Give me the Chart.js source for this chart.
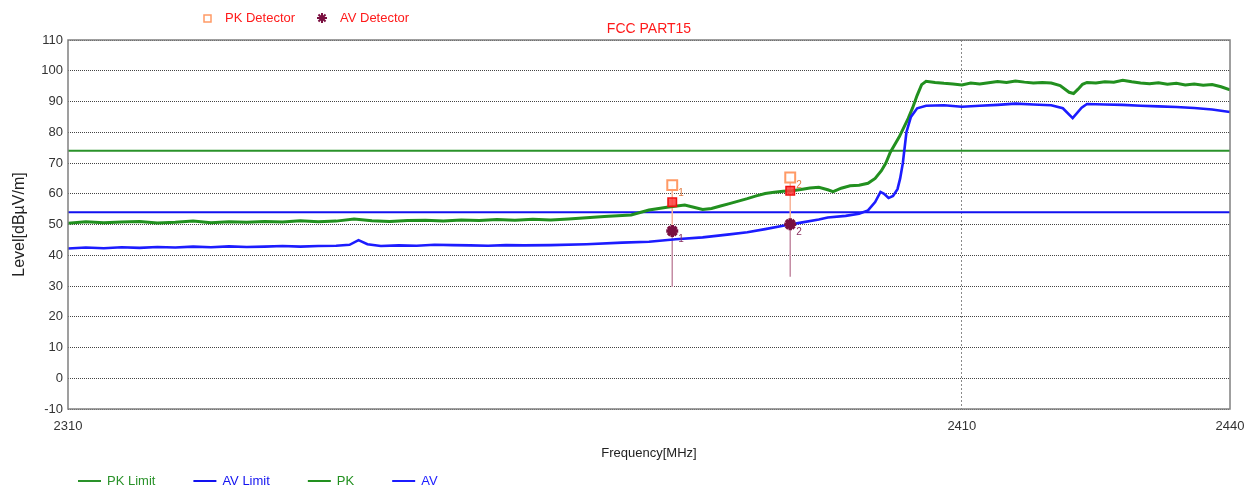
<!DOCTYPE html>
<html>
<head>
<meta charset="utf-8">
<script src="https://cdn.jsdelivr.net/npm/chart.js@4.4.0/dist/chart.umd.min.js"></script>
<style>
  html, body { margin: 0; background: #fff; }
  #wrap { width: 1255px; height: 491px; }
</style>
</head>
<body>
<div id="wrap"><canvas id="grafico" width="1255" height="491"></canvas></div>
<script>
// tracce (MHz, dBµV/m)
const pkFreq = [2310,2312,2314,2316,2318,2320,2322,2324,2326,2328,2330,2332,2334,2336,2338,2340,2342,2344,2346,2348,
  2350,2352,2354,2356,2358,2360,2362,2364,2366,2368,2370,2372,2373,2375,2377,2379,2380,2381,2382,2383,2384,2385,2386,
  2387,2388,2389,2390,2391,2392,2393,2394,2395,2395.6,2396.5,2397.5,2398.5,2399.5,2400.3,2401,2401.5,2402,2402.5,2403,
  2403.5,2404,2404.5,2405,2405.5,2406,2407,2408,2409,2410,2411,2412,2413,2414,2415,2416,2417,2418,2419,2420,2421,2422,
  2422.5,2423,2423.5,2424,2425,2426,2427,2428,2429,2430,2431,2432,2433,2434,2435,2436,2437,2438,2439,2440];
const pkLevel = [50.4,50.9,50.6,50.8,51.0,50.5,50.7,51.1,50.6,50.9,50.7,51.0,50.8,51.2,50.9,51.1,51.8,51.2,51.0,51.3,
  51.4,51.1,51.5,51.3,51.6,51.4,51.7,51.5,51.8,52.2,52.6,52.9,53.1,54.7,55.6,56.3,55.6,54.9,55.2,56.0,56.8,57.6,58.4,
  59.3,60.1,60.5,60.8,61.0,61.4,61.9,62.1,61.3,60.7,61.8,62.6,62.8,63.4,65.0,67.5,70.0,73.5,76.0,78.5,
  81.5,84.5,88.0,92.0,95.5,96.6,96.2,95.9,95.7,95.4,96.0,95.7,96.1,96.5,96.2,96.7,96.3,96.0,96.2,96.0,95.2,93.0,
  92.6,94.0,95.6,96.2,96.0,96.4,96.3,96.9,96.4,96.0,95.8,96.1,95.6,95.9,95.4,95.7,95.3,95.5,94.8,93.8];

const avFreq = [2310,2312,2314,2316,2318,2320,2322,2324,2326,2328,2330,2332,2334,2336,2338,2340,2341.5,2342.5,2343.5,
  2345,2347,2349,2351,2353,2355,2357,2359,2361,2364,2368,2372,2375,2378,2381,2384,2386,2388,2390,2392,2394,2395,2397,
  2398.5,2399.5,2400.3,2400.9,2401.3,2401.8,2402.3,2402.8,2403.1,2403.4,2403.8,2404.3,2405,2406,2408,2410,2412,2414,
  2416,2418,2420,2421.3,2422.4,2423.4,2424,2426,2428,2430,2432,2434,2436,2438,2440];
const avLevel = [42.2,42.5,42.3,42.6,42.4,42.7,42.5,42.8,42.6,42.9,42.7,42.8,43.0,42.8,43.0,43.1,43.4,44.9,43.6,
  43.0,43.2,43.1,43.4,43.3,43.2,43.1,43.3,43.2,43.3,43.6,44.1,44.4,45.2,45.8,46.8,47.5,48.5,49.6,50.6,51.6,52.3,52.8,
  53.5,54.6,57.3,60.6,60.0,58.6,59.3,61.5,65.0,70.0,80.0,85.0,87.8,88.6,88.8,88.3,88.6,88.9,
  89.3,89.0,88.8,87.8,84.6,88.0,89.2,89.0,88.9,88.6,88.4,88.2,87.9,87.4,86.6];

// limiti
const limitFreq = [2310, 2440];
const pkLimit = 74;
const avLimit = 54;

// marker 1 e 2
const markerFreq = [2377.6, 2390.8];
const pkDetector = [62.8, 65.3];
const pkOnTrace = [57.2, 61.0];
const avDetector = [47.9, 50.1];
const markerFloor = [29.7, 33.0];

const xTicks = [2310, 2410, 2440];
const yMin = -10, yMax = 110, yStep = 10;

const FONT = "'Liberation Sans', Arial, sans-serif";
const VERDE = '#22901f';
const BLU = '#1c1cff';

function punti(xs, ys) { return xs.map((x, i) => ({ x: x, y: ys[i] })); }

// segmenti verticali dei marker, separati da un null
function aste(da, a) {
  const out = [];
  markerFreq.forEach((f, i) => {
    if (i > 0) out.push({ x: f, y: null });
    out.push({ x: f, y: da[i] }, { x: f, y: a[i] });
  });
  return out;
}

const decorazioni = {
  id: 'decorazioni',
  afterDatasetsDraw(chart) {
    const { ctx, chartArea: a } = chart;
    ctx.save();
    ctx.strokeStyle = '#808080';
    ctx.lineWidth = 1.5;
    ctx.strokeRect(a.left, a.top, a.right - a.left, a.bottom - a.top);

    ctx.font = '10px ' + FONT;
    ctx.textBaseline = 'middle';
    chart.data.datasets.forEach((ds, i) => {
      if (!ds.coloreNumero) return;
      chart.getDatasetMeta(i).data.forEach((p, k) => {
        ctx.fillStyle = ds.coloreNumero;
        ctx.fillText(String(k + 1), p.x + 6, p.y + 8);
      });
    });
    ctx.restore();
  },
  afterDraw(chart) {
    const ctx = chart.ctx;
    ctx.save();
    ctx.textBaseline = 'middle';

    // titolo
    ctx.font = '14px ' + FONT;
    ctx.fillStyle = '#ff1a1a';
    ctx.textAlign = 'center';
    ctx.fillText('FCC PART15', (chart.chartArea.left + chart.chartArea.right) / 2, 29);

    // legenda in alto
    ctx.textAlign = 'left';
    ctx.font = '13px ' + FONT;
    ctx.fillStyle = '#fff';
    ctx.strokeStyle = '#ff9a66';
    ctx.lineWidth = 1.5;
    ctx.fillRect(204, 15, 7, 7);
    ctx.strokeRect(204, 15, 7, 7);
    ctx.fillStyle = '#ff1a1a';
    ctx.fillText('PK Detector', 225, 18);

    ctx.strokeStyle = '#7a1040';
    ctx.fillStyle = '#7a1040';
    ctx.lineWidth = 2;
    ctx.beginPath();
    for (let k = 0; k < 4; k++) {
      const ang = k * Math.PI / 4;
      ctx.moveTo(322 - 5 * Math.cos(ang), 18 - 5 * Math.sin(ang));
      ctx.lineTo(322 + 5 * Math.cos(ang), 18 + 5 * Math.sin(ang));
    }
    ctx.stroke();
    ctx.beginPath();
    ctx.arc(322, 18, 2.5, 0, Math.PI * 2);
    ctx.fill();
    ctx.fillStyle = '#ff1a1a';
    ctx.fillText('AV Detector', 340, 18);

    // legenda in basso
    let x = 78;
    const y = 481;
    ['PK Limit', 'AV Limit', 'PK', 'AV'].forEach(nome => {
      const ds = chart.data.datasets.find(d => d.label === nome);
      ctx.strokeStyle = ds.borderColor;
      ctx.lineWidth = 2;
      ctx.beginPath();
      ctx.moveTo(x, y);
      ctx.lineTo(x + 23, y);
      ctx.stroke();
      ctx.fillStyle = ds.borderColor;
      ctx.fillText(nome, x + 29, y);
      x += 29 + ctx.measureText(nome).width + 38;
    });
    ctx.restore();
  }
};

function start() {
  const ctx = document.getElementById('grafico').getContext('2d');
  Chart.defaults.font.family = FONT;

  new Chart(ctx, {
    type: 'line',
    data: {
      datasets: [
        {
          label: 'AV Detector', data: punti(markerFreq, avDetector), showLine: false, order: 1,
          pointStyle: 'star', pointRadius: 6, pointBorderWidth: 3.5,
          borderColor: '#7a1040', backgroundColor: '#7a1040', coloreNumero: '#8a3060'
        },
        {
          label: 'PK su traccia', data: punti(markerFreq, pkOnTrace), showLine: false, order: 2,
          pointStyle: 'rect', pointRadius: 6, pointBorderWidth: 1.5,
          borderColor: '#ee1111', backgroundColor: 'rgba(255,60,60,0.85)'
        },
        {
          label: 'PK Detector', data: punti(markerFreq, pkDetector), showLine: false, order: 3,
          pointStyle: 'rect', pointRadius: 7, pointBorderWidth: 2,
          borderColor: '#ff9a66', backgroundColor: 'rgba(255,255,255,0.9)', coloreNumero: '#e07a40'
        },
        {
          label: 'asta alta', data: aste(pkDetector, avDetector), order: 6,
          borderColor: '#f7b49a', borderWidth: 1.5, pointRadius: 0, spanGaps: false
        },
        {
          label: 'asta bassa', data: aste(avDetector, markerFloor), order: 7,
          borderColor: '#c48ca4', borderWidth: 1.5, pointRadius: 0, spanGaps: false
        },
        {
          label: 'AV', data: punti(avFreq, avLevel), order: 4,
          borderColor: BLU, borderWidth: 2.6, pointRadius: 0
        },
        {
          label: 'PK', data: punti(pkFreq, pkLevel), order: 5,
          borderColor: VERDE, borderWidth: 3, pointRadius: 0
        },
        {
          label: 'AV Limit', data: punti(limitFreq, [avLimit, avLimit]), order: 8,
          borderColor: '#1212f0', borderWidth: 2, pointRadius: 0
        },
        {
          label: 'PK Limit', data: punti(limitFreq, [pkLimit, pkLimit]), order: 9,
          borderColor: '#2a922a', borderWidth: 2, pointRadius: 0
        }
      ]
    },
    options: {
      responsive: false,
      animation: false,
      layout: { padding: { left: 0, right: 25, top: 40, bottom: 26 } },
      plugins: {
        legend: { display: false },
        title: { display: false },
        tooltip: { enabled: false }
      },
      scales: {
        x: {
          type: 'linear',
          min: 2310,
          max: 2440,
          afterBuildTicks: axis => { axis.ticks = xTicks.map(v => ({ value: v })); },
          afterFit: scale => { scale.height = 56; },
          grid: {
            drawTicks: false,
            color: c => (c.tick && c.tick.value === 2410) ? '#8a8a8a' : 'rgba(0,0,0,0)',
            lineWidth: 1
          },
          border: { display: false, dash: [2, 2] },
          ticks: {
            padding: 10,
            maxRotation: 0,
            autoSkip: false,
            color: '#333',
            font: { size: 13 },
            callback: v => String(v)
          },
          title: {
            display: true,
            text: 'Frequency[MHz]',
            color: '#222',
            font: { size: 13 },
            padding: { top: 4, bottom: 4 }
          }
        },
        y: {
          min: yMin,
          max: yMax,
          afterFit: scale => { scale.width = 68; },
          grid: { drawTicks: false, color: '#444', lineWidth: 1 },
          border: { display: false, dash: [1, 1] },
          ticks: {
            stepSize: yStep,
            padding: 5,
            color: '#333',
            font: { size: 13 },
            callback: v => String(v)
          },
          title: {
            display: true,
            text: 'Level[dBµV/m]',
            color: '#222',
            font: { size: 16 },
            padding: { top: 10, bottom: 0 }
          }
        }
      }
    },
    plugins: [decorazioni]
  });
}

if (document.readyState === 'loading') document.addEventListener('DOMContentLoaded', start);
else start();
</script>
</body>
</html>
